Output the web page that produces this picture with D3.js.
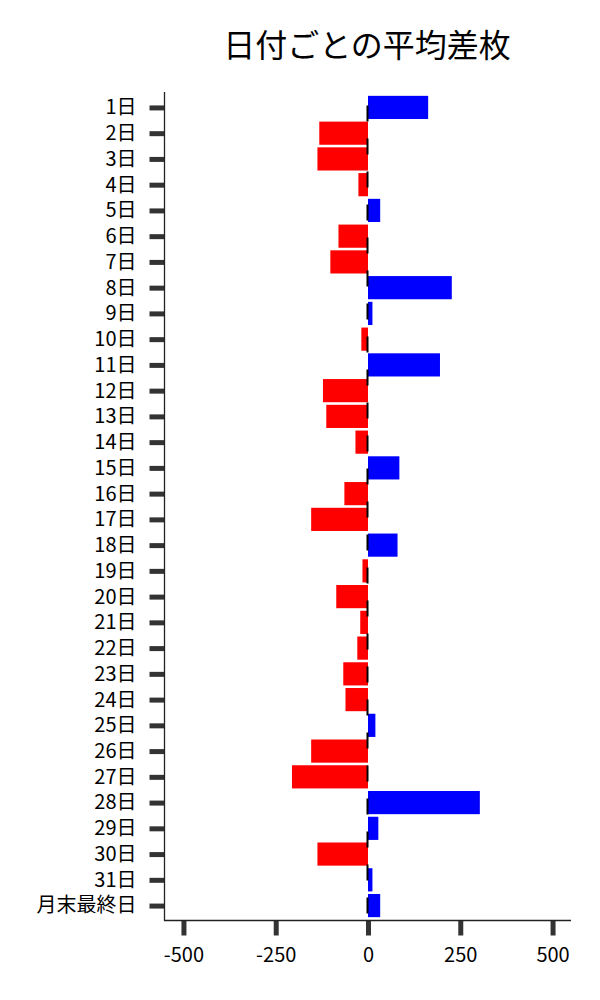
<!DOCTYPE html>
<html>
<head>
<meta charset="utf-8">
<script src="https://cdn.jsdelivr.net/npm/d3@7"></script>
<style>
  body { margin: 0; background: #fff; }
  svg { font-family: "Noto Sans CJK JP", "Noto Sans", sans-serif; }
</style>
</head>
<body>
<svg id="chart" width="600" height="1000"></svg>
<script>
// 日付ごとの平均差枚
var days = ["1日","2日","3日","4日","5日","6日","7日","8日","9日","10日",
  "11日","12日","13日","14日","15日","16日","17日","18日","19日","20日",
  "21日","22日","23日","24日","25日","26日","27日","28日","29日","30日",
  "31日","月末最終日"];
var diffs = [163, -132, -137, -26, 33, -80, -102, 227, 12, -18,
  195, -122, -113, -34, 85, -64, -154, 80, -15, -86,
  -21, -29, -67, -61, 20, -154, -206, 303, 28, -137,
  12, 33];
var xTicks = [-500, -250, 0, 250, 500];

var svg = d3.select("#chart");

var x = d3.scaleLinear().domain([-550, 550]).range([165, 571]);
var y = d3.scalePoint().domain(days).range([92.5, 920.5]).padding(0.58);
var barH = y.step() * 0.9;

// title
svg.append("text")
  .attr("x", 367)
  .attr("y", 43)
  .attr("text-anchor", "middle")
  .attr("dominant-baseline", "central")
  .attr("font-size", 32)
  .attr("fill", "#000")
  .text("日付ごとの平均差枚");

// bars
svg.append("g").selectAll("rect")
  .data(days)
  .join("rect")
  .attr("x", (d, i) => x(Math.min(0, diffs[i])))
  .attr("width", (d, i) => Math.abs(x(diffs[i]) - x(0)))
  .attr("y", d => y(d) - barH / 2)
  .attr("height", barH)
  .attr("fill", (d, i) => diffs[i] >= 0 ? "#0000ff" : "#ff0000");

// zero line, dashed
svg.append("line")
  .attr("x1", x(0) - 0.5).attr("x2", x(0) - 0.5)
  .attr("y1", 92.5).attr("y2", 920.5)
  .attr("stroke", "#000")
  .attr("stroke-width", 2)
  .attr("stroke-dasharray", "16 17")
  .attr("stroke-dashoffset", 20);

// y axis
var yAxis = svg.append("g")
  .attr("transform", "translate(164.5,0)")
  .call(d3.axisLeft(y).tickSize(15).tickPadding(13));
yAxis.select(".domain").remove();
yAxis.selectAll(".tick line").attr("stroke", "#333").attr("stroke-width", 5);
yAxis.selectAll(".tick text")
  .attr("font-size", 20)
  .attr("fill", "#000")
  .attr("font-family", "'Noto Sans CJK JP', sans-serif");

// x axis
var xAxis = svg.append("g")
  .attr("transform", "translate(0,920.5)")
  .call(d3.axisBottom(x).tickValues(xTicks).tickSize(15).tickPadding(12).tickFormat(d => String(d)));
xAxis.select(".domain").remove();
xAxis.selectAll(".tick line").attr("stroke", "#333").attr("stroke-width", 5);
xAxis.selectAll(".tick text")
  .attr("font-size", 20)
  .attr("fill", "#000")
  .attr("font-family", "'Noto Sans CJK JP', sans-serif");

// spines
svg.append("line")
  .attr("x1", 164.5).attr("x2", 164.5).attr("y1", 92).attr("y2", 921)
  .attr("stroke", "#222").attr("stroke-width", 1.3);
svg.append("line")
  .attr("x1", 164).attr("x2", 571).attr("y1", 920.5).attr("y2", 920.5)
  .attr("stroke", "#222").attr("stroke-width", 1.3);
</script>
</body>
</html>
